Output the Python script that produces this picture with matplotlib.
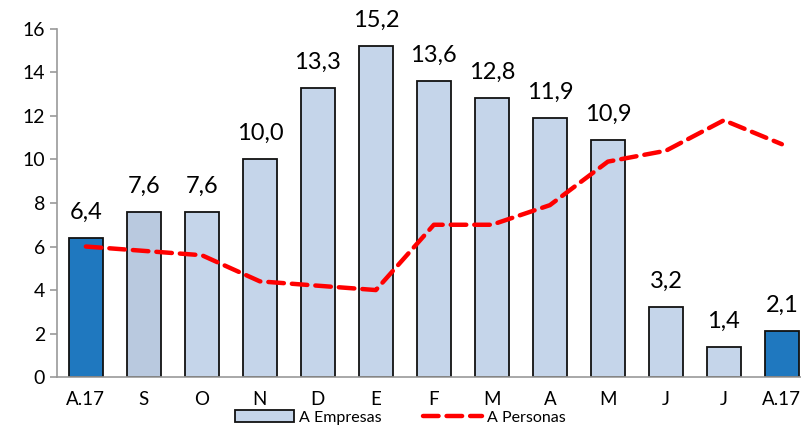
import matplotlib
matplotlib.use("Agg")
import matplotlib.pyplot as plt
from matplotlib.patches import Patch
from matplotlib.lines import Line2D
import numpy as np

plt.rcParams['font.family'] = ['Lato', 'DejaVu Sans']

meses = ['A.17', 'S', 'O', 'N', 'D', 'E', 'F', 'M', 'A', 'M', 'J', 'J', 'A.17']
empresas = [6.4, 7.6, 7.6, 10.0, 13.3, 15.2, 13.6, 12.8, 11.9, 10.9, 3.2, 1.4, 2.1]
personas = [6.0, 5.8, 5.6, 4.4, 4.2, 4.0, 7.0, 7.0, 7.9, 9.9, 10.4, 11.8, 10.7]

colores = ['#1f78bf', '#b9c9df'] + ['#c5d5ea'] * 10 + ['#1f78bf']

fig = plt.figure(figsize=(8.01, 4.37), dpi=100)
ax = fig.add_axes([0.071, 0.137, 0.929, 0.797])

x = np.arange(len(meses))
ax.bar(x, empresas, width=0.58, color=colores, edgecolor='#111111',
       linewidth=1.3, zorder=2)
ax.plot(x, personas, color='#ff0000', lw=3.2, dashes=(3.5, 1.8),
        dash_capstyle='round', zorder=3)

for xi, v in zip(x, empresas):
    ax.text(xi, v + 0.7, f'{v:.1f}'.replace('.', ','), ha='center',
            va='bottom', fontsize=17)

ax.set_xlim(-0.5, 12.33)
ax.set_ylim(0, 16)
ax.set_yticks(range(0, 17, 2))
ax.set_xticks(x)
ax.set_xticklabels(meses, fontsize=13.5)
ax.tick_params(axis='y', labelsize=14, color='#999999', length=5, width=1.2)
ax.tick_params(axis='x', length=0, pad=10)
for s in ['top', 'right']:
    ax.spines[s].set_visible(False)
ax.spines['left'].set_color('#999999')
ax.spines['bottom'].set_color('#999999')
ax.spines['left'].set_linewidth(1.2)
ax.spines['bottom'].set_linewidth(1.2)

handles = [Patch(facecolor='#c5d5ea', edgecolor='#111111', linewidth=1.3, label='A Empresas'),
           Line2D([], [], color='#ff0000', lw=3.2, dashes=(3.5, 1.8),
                  dash_capstyle='round', label='A Personas')]
fig.legend(handles=handles, loc='lower center', bbox_to_anchor=(0.5, -0.005), ncol=2,
           frameon=False, fontsize=11.5, handlelength=3.7, handleheight=0.8,
           columnspacing=2.6, handletextpad=0.3)

fig.savefig('out.png', dpi=100)
